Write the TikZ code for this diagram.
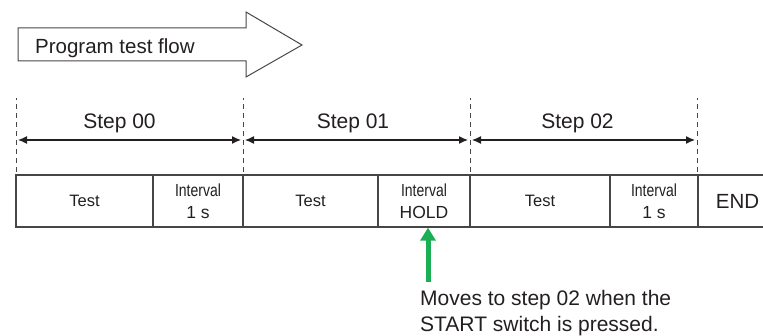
\documentclass[tikz,border=0pt]{standalone}
\usepackage{fontspec}
\setmainfont{Liberation Sans}
\newfontfamily\narrowfont[FakeStretch=0.8]{Liberation Sans}
\usetikzlibrary{positioning, arrows.meta}
\definecolor{linegray}{RGB}{70,70,70}
\definecolor{textgray}{RGB}{35,31,32}
\definecolor{pressgreen}{RGB}{26,175,84}
\tikzset{
  flowarrow/.style={draw=linegray, line width=1pt, line join=miter},
  divider/.style={draw=linegray, line width=1pt, dash pattern=on 5pt off 4pt},
  steparrow/.style={draw=textgray, line width=1.2pt, {Latex[length=9pt,width=8pt]}-{Latex[length=9pt,width=8pt]}, shorten <=2pt, shorten >=2pt},
  cell/.style={rectangle, draw=linegray, line width=1.3pt, minimum height=52pt, inner sep=0pt, align=center, text=textgray, font=\fontsize{16.5}{20}\selectfont},
  oneline/.style={},
  twoline/.style={font=\fontsize{17.5}{22}\selectfont},
  bigtext/.style={font=\fontsize{21}{26}\selectfont, text=textgray, inner sep=0pt},
  pressarrow/.style={draw=pressgreen, line width=5pt, -{Triangle[length=13pt,width=15pt]}},
}

\begin{document}
\begin{tikzpicture}[x=1pt, y=1pt]
  \useasboundingbox (0,0) rectangle (763,336);

  % --- PROGRAM FLOW ARROW ---
  \draw[flowarrow] (18,275) -- (18,308) -- (246,308) -- (246,324) -- (302,291)
    -- (246,259) -- (246,275) -- cycle;
  \node[bigtext, anchor=base west, font=\fontsize{20.5}{25}\selectfont] (flowlabel) at (35,282) {Program test flow};

  % --- STEP DIVIDERS ---
  \foreach \i/\x in {0/16, 1/243, 2/470, 3/697} {
    \coordinate (div\i) at (\x,196);
    \draw[divider] (\x,164) -- (\x,238);
  }

  % --- STEP SPANS ---
  \foreach \s/\a/\b/\lx in {00/0/1/119.5, 01/1/2/353, 02/2/3/577.5} {
    \draw[steparrow] (div\a) -- (div\b);
    \node[bigtext] (step\s) at (\lx,213) {Step \s};
  }

  % --- TIMELINE CELLS ---
  \foreach \name/\xl/\xr/\sty/\txt in {
      testA/16/153/oneline/{Test},
      waitA/153/243/twoline/{{\narrowfont Interval}\\1 s},
      testB/243/378/oneline/{Test},
      hold/378/470/twoline/{{\narrowfont Interval}\\HOLD},
      testC/470/610/oneline/{Test},
      waitC/610/698/twoline/{{\narrowfont Interval}\\1 s}} {
    \node[cell, \sty, minimum width={(\xr-\xl)*1pt}] (\name) at ({(\xl+\xr)/2},135) {\txt};
  }
  \node[cell, minimum width=79pt, font=\fontsize{20.5}{25}\selectfont] (finish) at (737.5,135) {END};

  % --- START SWITCH NOTE ---
  \node[bigtext, anchor=north west, align=left] (note) at (420,46)
    {Moves to step 02 when the\\START switch is pressed.};
  \coordinate (pressfoot) at ([xshift=8pt, yshift=8pt]note.north west);
  \draw[pressarrow] (pressfoot) -- (pressfoot |- hold.south);

\end{tikzpicture}
\end{document}
